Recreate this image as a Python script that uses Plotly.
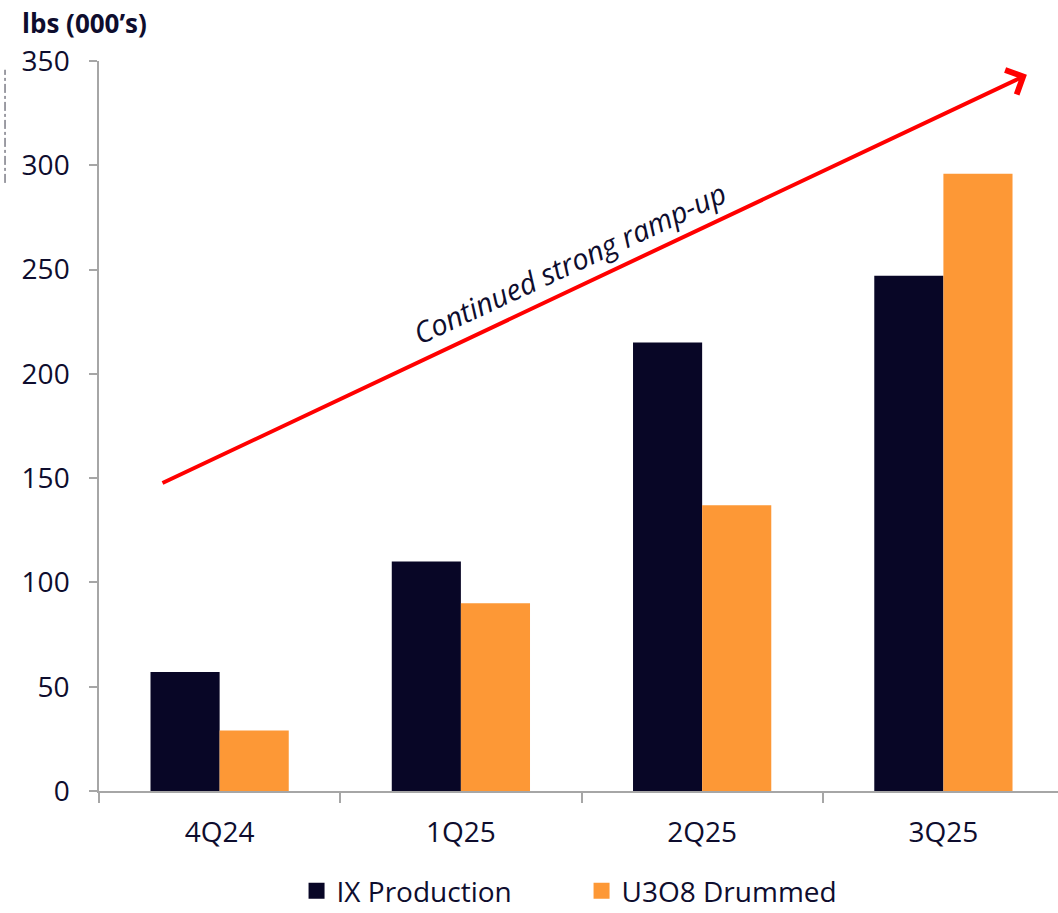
import plotly.graph_objects as go

categories = ["4Q24", "1Q25", "2Q25", "3Q25"]
ix_production = [57, 110, 215, 247]
u3o8_drummed = [29, 90, 137, 296]
series_names = ["IX Production", "U3O8 Drummed"]
y_ticks = [0, 50, 100, 150, 200, 250, 300, 350]

DARK = "#080626"
ORANGE = "#FD9836"
TEXT = "#0E0D2E"
AXIS = "#A6A6A6"
FONT = "Open Sans"

fig = go.Figure()
fig.add_trace(go.Bar(x=categories, y=ix_production, name=series_names[0],
                     marker=dict(color=DARK, line=dict(width=0)), showlegend=False))
fig.add_trace(go.Bar(x=categories, y=u3o8_drummed, name=series_names[1],
                     marker=dict(color=ORANGE, line=dict(width=0)), showlegend=False))
# legend entries with larger square symbols
fig.add_trace(go.Scatter(x=[None], y=[None], mode="markers", name=series_names[0],
                         marker=dict(symbol="square", size=18, color=DARK)))
fig.add_trace(go.Scatter(x=[None], y=[None], mode="markers", name=series_names[1],
                         marker=dict(symbol="square", size=18, color=ORANGE)))

fig.update_layout(
    width=1058, height=913,
    margin=dict(l=99, r=0, t=61, b=122),
    paper_bgcolor="white", plot_bgcolor="white",
    barmode="group", bargap=0.427, bargroupgap=0,
    font=dict(family=FONT, size=28, color=TEXT),
    showlegend=True,
    legend=dict(orientation="h", x=0.206, xanchor="left", xref="paper",
                y=0.024, yanchor="middle", yref="container",
                font=dict(family=FONT, size=28, color=TEXT),
                entrywidth=240, bgcolor="rgba(0,0,0,0)", itemsizing="trace"),
    xaxis=dict(
        range=[-0.5, 3.475], showline=True, linecolor=AXIS, linewidth=1.5,
        ticks="outside", ticklen=10, tickcolor=AXIS, tickwidth=1.5,
        tickson="boundaries", showgrid=False, zeroline=False,
        tickfont=dict(family=FONT, size=28, color=TEXT),
        ticklabelstandoff=16,
    ),
    yaxis=dict(
        range=[0, 350], tickvals=y_ticks, showline=True, linecolor=AXIS, linewidth=1.5,
        ticks="outside", ticklen=8, tickcolor=AXIS, tickwidth=1.5,
        showgrid=False, zeroline=False,
        tickfont=dict(family=FONT, size=28, color=TEXT),
        ticklabelstandoff=14,
    ),
)

# ramp-up arrow
fig.add_annotation(x=3.346, y=343.4, ax=-0.243, ay=147.3, xref="x", yref="y",
                   axref="x", ayref="y", text="", showarrow=True,
                   arrowhead=4, arrowsize=1.3, arrowwidth=4, arrowcolor="#FF0000",
                   standoff=0, startstandoff=0)
fig.add_annotation(x=1.45, y=253.5, xref="x", yref="y", text="<i>Continued strong ramp-up</i>",
                   showarrow=False, textangle=-25,
                   font=dict(family=FONT, size=29, color=TEXT))
# axis title
fig.add_annotation(x=-0.0824, y=1.052, xref="paper", yref="paper", xanchor="left",
                   yanchor="middle", text="<b>lbs (000’s)</b>", showarrow=False,
                   font=dict(family=FONT, size=26, color=TEXT))
# small dash-dot artifact at left edge
fig.add_shape(type="line", xref="paper", yref="paper", x0=-0.098, x1=-0.098,
              y0=0.833, y1=0.988, line=dict(color="#3A3A4A", width=1, dash="dashdot"))

fig.write_html("out.html")
